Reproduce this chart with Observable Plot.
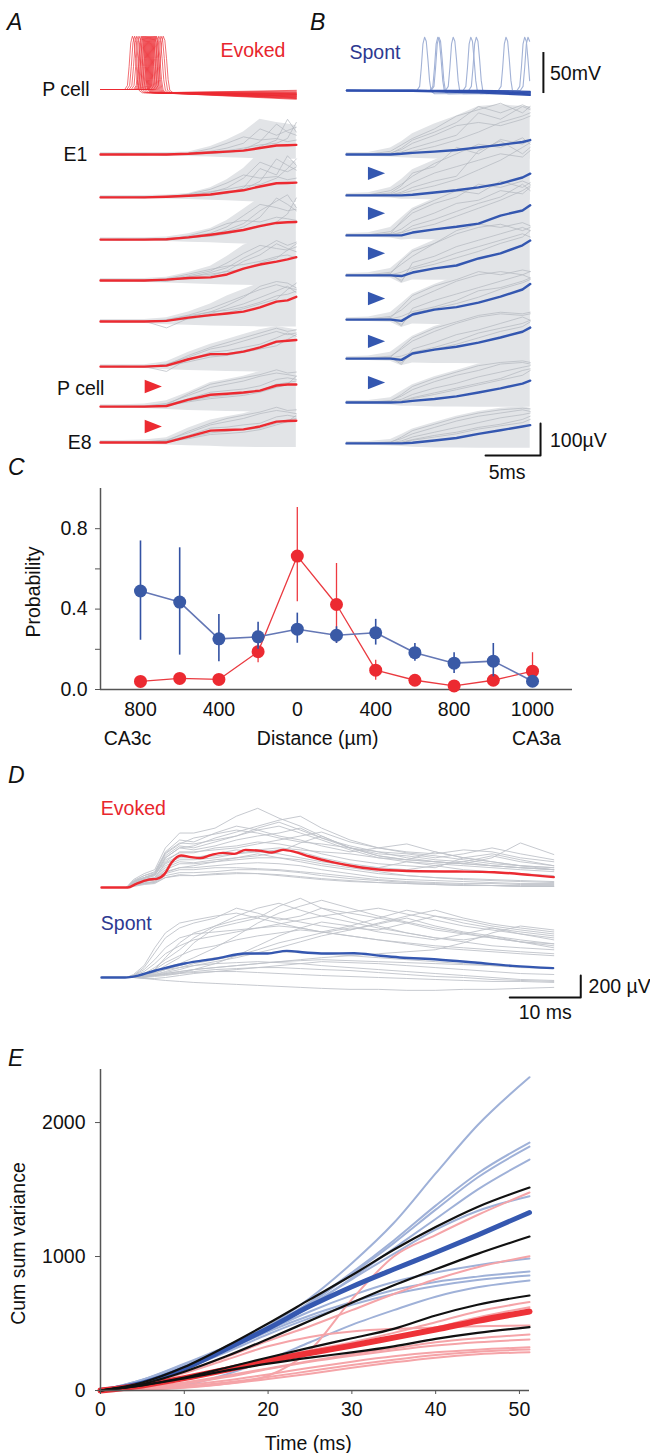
<!DOCTYPE html>
<html><head><meta charset="utf-8">
<script src="https://cdn.jsdelivr.net/npm/d3@7"></script>
<script src="https://cdn.jsdelivr.net/npm/@observablehq/plot@0.6"></script>
<style>
html,body{margin:0;padding:0;background:#fff;}
#fig{position:relative;width:650px;height:1453px;overflow:hidden;font-family:"Liberation Sans",Arial,Helvetica,sans-serif;}
.panel{position:absolute;}
.letter{position:absolute;font-style:italic;font-size:23px;line-height:23px;color:#111;}
</style></head><body><div id="fig"></div>
<script>
// ================= DATA =================
// ---- Panel A (evoked) : time grid (ms), row baselines (µV), traces (µV) ----
const tA = [0,2,4,6,8,10,11.5,13,14.5,16,17,17.8];
const rowBaseA = [972,838,706,578,450,309,184,72];
const meanA = [
 [0,0,0,0,2,6,9,12,20,28,29,30],
 [0,0,0,2,5,9,16,22,34,44,45,46],
 [0,0,0,1,7,15,22,30,42,52,54,55],
 [0,0,0,3,8,10,19,37,50,59,66,73],
 [0,0,0,2,12,20,25,31,44,62,66,77],
 [0,0,0,3,23,39,39,47,60,78,81,83],
 [0,0,0,2,22,37,40,44,50,66,69,69],
 [0,0,0,0,18,37,39,41,50,65,67,68]];
const upperA = [
 [6,6,6,6,8,25,45,70,110,100,95,90],
 [6,6,6,7,12,30,55,90,140,130,120,110],
 [6,6,6,8,18,35,60,95,130,140,120,110],
 [6,6,6,10,25,45,75,110,130,125,120,115],
 [6,6,6,12,30,55,80,100,120,130,125,115],
 [6,6,6,15,45,70,85,100,115,125,120,115],
 [6,6,8,18,45,75,85,95,110,120,115,110],
 [6,6,8,15,45,70,80,90,105,115,110,105]];
const lowerA = [
 [-5,-5,-5,-5,-6,-8,-10,-12,-14,-15,-15,-15],
 [-5,-5,-5,-5,-7,-9,-11,-13,-15,-16,-16,-16],
 [-5,-5,-5,-6,-8,-10,-12,-14,-16,-16,-16,-16],
 [-5,-5,-6,-8,-10,-12,-14,-15,-16,-16,-16,-16],
 [-5,-5,-6,-10,-12,-14,-15,-16,-17,-17,-17,-17],
 [-5,-5,-6,-10,-12,-14,-15,-16,-17,-17,-17,-17],
 [-5,-5,-6,-9,-12,-14,-15,-16,-17,-17,-17,-17],
 [-5,-5,-6,-8,-10,-12,-14,-15,-16,-16,-16,-16]];
const grayA = [
 [[1,-1,2,0,3,10,20,35,80,60,75,85],[-1,1,-1,2,0,4,8,15,40,95,70,60],[0,2,1,-2,4,18,35,55,45,50,40,45],[0,0,1,-1,1,3,6,12,25,45,110,70],[0,1,0,1,2,6,12,20,30,35,50,100]],
 [[1,-1,2,1,6,15,30,60,110,90,80,95],[0,1,-1,3,4,8,14,25,50,120,100,85],[-1,0,1,0,10,25,45,70,60,65,55,60],[0,0,1,0,3,7,12,30,90,70,130,100],[1,0,-1,2,8,18,25,35,40,60,90,120]],
 [[0,1,-1,2,10,20,40,75,110,100,90,95],[1,-1,0,3,5,12,25,40,70,130,110,90],[0,0,2,-2,12,30,50,60,55,70,65,60],[0,1,0,1,6,14,30,50,90,120,140,100],[0,-1,1,2,8,10,18,30,45,55,80,130]],
 [[0,1,-1,4,15,30,55,85,110,100,95,105],[1,-1,1,2,6,15,30,60,80,115,100,90],[0,0,-1,6,20,35,45,50,60,75,80,70],[0,0,1,2,10,25,40,70,95,125,110,120],[1,0,-1,-3,12,20,28,35,55,70,95,115]],
 [[0,1,0,6,20,40,60,80,100,115,105,100],[1,-1,1,-20,10,25,40,55,75,95,110,90],[0,0,-1,4,18,30,35,45,60,80,85,95],[0,0,1,3,14,30,50,75,110,125,120,105],[1,-1,0,2,8,18,28,40,55,70,100,120]],
 [[0,1,-1,8,30,55,65,80,95,110,100,105],[1,0,1,5,20,45,50,60,70,90,105,95],[0,-1,0,-15,25,35,40,50,60,75,80,85],[0,1,0,5,35,60,75,90,105,120,110,115],[1,0,-1,2,15,30,35,45,55,65,85,100]],
 [[0,1,2,10,35,60,70,80,95,105,100,95],[1,0,-1,6,25,45,50,55,65,85,90,85],[0,-1,1,4,18,30,35,40,50,70,75,80],[0,0,1,6,40,70,80,90,100,115,105,108],[0,1,-1,3,15,25,30,35,45,60,70,95]],
 [[0,1,2,8,30,55,65,75,90,100,95,90],[1,0,-1,5,22,45,48,55,60,80,85,80],[0,-1,1,3,15,30,35,40,45,60,70,75],[0,0,1,5,35,60,75,85,95,110,100,102],[1,0,-1,2,12,25,28,32,40,55,65,85]]];
const arrowRowsA = [6,7];
const arrowLiftA = [63,50];

// P cell spikes (mV): one spike waveform, peak times (ms), end values (mV)
const spikeWave = [[-0.7,0],[-0.45,5],[-0.3,28],[-0.15,57],[0,65],[0.15,60],[0.3,38],[0.45,12],[0.6,-1],[0.9,-4]];
const peaksA = [2.9,3.1,3.3,3.5,3.7,3.8,3.9,4.0,4.1,4.2,4.3,4.4,4.5,4.6,4.7,4.8,4.9,5.0,5.1,5.3,5.5,5.7];
const endsA  = [-2,-5,-8,-4,-10,-6,-9,-3,-11,-5,-8,-7,-12,-6,-9,-1,-10,-7,-8,-4,-11,-6];
const tEndA = 17.8;

// ---- Panel B (spontaneous) ----
const tB = [0,2,4,5,6,8,10,12,14,16,16.7];
const rowBaseB = [972,844,719,594,456,334,197,69];
const meanB = [
 [0,0,0,2,5,9,14,22,30,39,45],
 [0,0,0,0,2,9,16,25,37,56,68],
 [0,0,0,0,9,19,27,37,62,78,94],
 [0,0,0,-2,9,22,31,53,69,94,109],
 [0,0,0,-4,16,31,39,53,72,94,111],
 [0,0,0,-4,16,28,37,50,66,84,97],
 [0,0,0,1,5,11,19,31,44,59,68],
 [0,0,0,0,2,9,17,30,41,53,57]];
const upperB = [
 [6,6,20,40,65,95,120,150,155,150,150],
 [6,8,25,50,80,110,140,170,180,175,170],
 [6,8,25,55,85,115,145,170,175,170,165],
 [6,8,22,50,80,110,140,160,170,165,160],
 [6,8,22,50,80,110,135,150,160,160,155],
 [6,8,20,45,70,100,120,140,150,150,145],
 [6,6,15,35,55,80,100,120,130,135,130],
 [6,6,12,28,45,65,85,100,110,115,110]];
const lowerB = [
 [-5,-6,-8,-10,-12,-14,-14,-15,-15,-15,-15],
 [-5,-6,-8,-12,-12,-14,-14,-15,-15,-15,-15],
 [-5,-6,-8,-14,-12,-14,-15,-15,-16,-16,-16],
 [-5,-6,-8,-25,-14,-15,-15,-16,-16,-16,-16],
 [-5,-6,-8,-25,-14,-15,-15,-16,-16,-16,-16],
 [-5,-6,-8,-22,-14,-15,-15,-16,-16,-16,-16],
 [-5,-6,-8,-12,-12,-14,-14,-15,-15,-15,-15],
 [-5,-6,-8,-10,-12,-14,-14,-15,-15,-15,-15]];
const grayB = [
 [[0,1,10,30,50,80,120,140,160,130,150],[1,-1,5,15,35,60,90,100,90,110,120],[0,0,2,8,20,40,60,130,110,150,140],[0,0,3,20,45,70,100,150,130,155,145],[0,1,1,5,10,25,45,70,100,120,130]],
 [[0,2,15,35,60,100,130,160,150,180,160],[1,0,4,20,40,70,90,110,130,120,140],[0,-1,2,10,25,45,60,140,170,130,150],[0,1,8,30,70,90,150,130,175,160,175],[0,0,2,6,15,30,50,80,110,150,165]],
 [[0,2,12,40,70,100,120,160,150,170,160],[1,0,5,20,45,70,100,110,140,130,150],[0,-1,3,10,30,50,75,100,120,160,140],[0,1,6,45,80,110,140,130,170,150,165],[0,0,2,8,20,35,60,85,110,140,155]],
 [[0,2,10,35,60,100,130,150,160,140,150],[1,0,5,-20,40,60,90,110,130,150,140],[0,-1,2,10,25,45,70,90,110,130,120],[0,1,5,45,75,100,140,160,150,165,155],[0,0,2,-15,20,35,55,75,100,120,140]],
 [[0,2,10,30,60,90,120,140,150,140,150],[1,0,5,-20,35,60,80,100,120,140,130],[0,-1,2,10,25,40,60,90,100,120,130],[0,1,5,40,75,105,125,150,140,155,150],[0,0,2,-15,20,35,50,70,95,115,125]],
 [[0,2,8,30,55,85,110,130,140,135,140],[1,0,4,-18,30,50,75,90,110,130,120],[0,-1,2,8,20,35,55,80,95,110,120],[0,1,4,35,65,95,115,135,145,140,145],[0,0,2,-12,15,30,45,65,85,100,115]],
 [[0,1,6,20,40,65,85,100,120,125,120],[1,0,3,10,25,45,60,80,95,110,115],[0,-1,1,5,15,30,45,60,75,100,105],[0,1,4,25,50,75,95,115,125,130,125],[0,0,1,5,12,25,40,55,70,85,100]],
 [[0,1,5,15,30,50,70,85,95,105,100],[1,0,2,8,20,35,50,65,80,90,95],[0,-1,1,4,12,25,35,50,60,75,85],[0,1,3,20,40,60,80,95,105,110,108],[0,0,1,3,10,20,30,45,55,65,75]]];
const arrowRowsB = [1,2,3,4,5,6];
const arrowLiftB = [69,69,69,66,54,62];
const peaksB = [7.1,8.3,8.4,9.7,11.3,11.8,14.5,16.2,16.5];
const endsB  = [-3,-2,-4,-3,-2,-4,-3,-2,-3];
const tFlatB = [0,6,12,16.7];
const flatB = [[0,0,0,-1],[0,0,-1,-2],[0,0,-1,-3],[0,-0.5,-2,-4],[0,0,-2,-5],[0,-1,-3,-6]];
const tEndB = 16.7;

// ---- Panel C : connection probability vs distance ----
const distPos = [0,1,2,3,4,5,6,7,8,9,10];
const distTickPos = [0,2,4,6,8,10];
const distTickLabels = ["800","400","0","400","800","1000"];
const spontP  = [0.49,0.435,0.252,0.262,0.30,0.27,0.282,0.183,0.131,0.141,0.041];
const spontLo = [0.245,0.171,0.138,0.20,0.23,0.229,0.221,0.14,0.08,0.063,0.041];
const spontHi = [0.739,0.705,0.373,0.335,0.38,0.312,0.349,0.229,0.183,0.229,0.041];
const evokP   = [0.04,0.055,0.05,0.188,0.664,0.423,0.096,0.046,0.018,0.046,0.091];
const evokLo  = [0.04,0.055,0.05,0.133,0.437,0.23,0.046,0.046,0.018,0.046,0.046];
const evokHi  = [0.04,0.055,0.05,0.229,0.905,0.627,0.146,0.046,0.018,0.046,0.183];

// ---- Panel D : evoked vs spontaneous EPSPs (µV) ----
const tD = [0,3.5,4.5,6,7.5,9,11,13,16,19,22,25,28,31,35,39,43,47,51,55,59,63.7];
const grayEvokedD = [
 [0,0,54,90,126,315,405,396,432,468,522,558,495,432,342,270,234,216,198,180,162,144],
 [0,0,27,54,72,180,234,225,252,270,288,324,405,468,360,288,252,234,216,198,180,162],
 [0,0,72,126,162,360,495,495,540,648,720,630,558,468,360,288,252,324,270,234,198,162],
 [0,0,18,45,54,135,180,180,198,216,225,216,198,162,126,90,72,63,54,45,36,36],
 [0,0,45,81,108,252,315,315,360,378,414,396,360,306,252,216,198,180,270,306,252,198],
 [0,0,18,36,45,108,135,135,144,162,162,153,135,108,81,63,45,36,27,18,18,18],
 [0,0,63,108,144,324,432,414,495,558,522,468,432,378,324,360,396,324,270,234,198,180],
 [0,0,36,72,90,216,270,270,288,306,324,342,324,270,216,180,162,198,234,288,234,198],
 [0,0,9,27,36,90,117,108,126,135,126,117,99,81,63,45,36,27,18,18,9,9],
 [0,0,54,90,126,288,378,360,414,468,540,594,522,450,378,324,270,234,216,270,405,300],
 [0,0,36,72,90,225,288,270,306,342,324,306,270,234,198,180,234,198,162,144,126,108],
 [0,0,27,54,72,162,216,216,234,252,270,270,252,216,180,144,108,90,72,63,54,45],
 [0,0,18,36,45,90,108,108,117,126,126,108,90,72,54,45,36,27,18,18,9,9],
 [0,0,54,90,117,270,360,342,378,432,468,495,540,450,360,306,288,252,234,198,180,162],
 [0,0,45,81,108,270,360,378,450,504,558,612,648,540,432,360,315,288,252,216,198,180],
 [0,0,27,63,81,198,252,252,270,306,342,360,342,324,306,270,252,234,216,198,180,162],
 [0,0,36,54,72,144,180,198,234,270,306,270,234,198,162,126,108,90,81,72,63,54],
 [0,0,54,108,135,306,396,450,486,522,495,450,414,396,360,324,306,270,306,360,306,252],
 [0,0,18,36,54,126,162,162,180,180,171,162,144,126,99,72,54,45,36,36,27,27],
 [0,0,45,90,117,234,324,324,342,360,396,432,468,504,414,360,324,306,342,324,270,234]];
const graySpontD = [
 [0,0,18,90,225,360,450,495,540,630,585,522,558,630,540,468,405,360,342,378,324,270],
 [0,0,0,18,45,108,180,315,450,495,540,648,720,630,585,540,612,558,495,450,414,378],
 [0,0,9,27,72,135,198,252,288,342,378,405,432,414,468,540,495,432,396,360,324,306],
 [0,0,0,9,27,54,90,126,162,198,252,315,360,405,450,432,495,558,522,468,432,396],
 [0,0,9,18,36,72,108,144,180,198,216,234,225,216,198,180,162,144,126,108,90,81],
 [0,0,0,0,18,36,54,72,90,108,126,144,162,180,198,216,234,252,315,405,468,432],
 [0,0,27,108,270,405,495,522,558,585,540,495,450,414,378,342,315,288,270,252,234,216],
 [0,0,0,9,18,27,36,45,54,54,45,36,27,18,9,0,-9,-18,-27,-36,-36,-45],
 [0,0,9,36,90,162,252,360,468,558,630,675,612,558,504,450,405,360,324,288,270,252],
 [0,0,0,18,54,90,126,180,270,378,495,585,648,702,630,558,504,450,405,360,324,288],
 [0,0,9,27,45,72,90,108,126,135,144,135,126,108,90,72,54,36,18,0,-18,-27],
 [0,0,18,54,126,216,288,342,378,414,450,486,522,558,594,630,576,522,468,432,396,360],
 [0,0,0,9,18,36,54,72,90,108,126,144,153,162,153,144,135,126,117,108,99,90],
 [0,0,0,-9,-18,-27,-36,-45,-54,-63,-72,-81,-90,-99,-108,-108,-117,-117,-108,-108,-99,-90],
 [0,0,0,18,72,180,315,405,468,522,558,540,504,468,432,486,540,468,414,378,342,306],
 [0,0,9,18,27,45,72,108,144,180,225,270,324,378,432,495,558,612,540,486,450,414],
 [0,0,0,9,18,27,45,54,72,81,90,90,81,72,63,45,27,9,0,-18,-27,-36],
 [0,0,18,72,162,270,360,396,414,432,450,468,450,414,378,342,306,270,252,234,216,198],
 [0,0,0,0,9,18,36,72,126,198,288,378,450,504,468,414,378,342,396,450,396,342],
 [0,0,0,-9,-9,0,18,36,54,72,90,108,126,144,135,126,108,90,72,54,36,27]];
const tRedD = [0,3.7,4.9,6.5,7.8,8.9,9.9,11.2,12.6,13.9,15.5,17.1,18.7,20.3,22.4,24,25.6,27.2,29.3,32.5,35.7,39.4,44.7,50,55.3,60.6,63.7];
const redD  = [0,0,33,70,79,124,230,291,276,267,297,315,306,342,333,318,342,324,282,230,191,161,148,145,139,112,94];
const tBlueD = [0,3.3,4.3,7.5,11.7,16.5,20.2,23.4,26.1,28.7,31.4,35.6,39.3,42,47.3,52.6,57.9,63.6];
const blueD  = [0,0,6,61,127,176,218,218,242,227,218,221,197,182,164,136,106,85];
const spontOffsetD = -818;

// ---- Panel E : cumulative sum of variance ----
const tE = [0,5,10,15,20,25,30,35,40,45,51.2];
const spontCells = [
 [0,80,200,330,480,690,950,1250,1620,1980,2338],
 [0,80,195,320,470,660,880,1120,1380,1620,1850],
 [0,75,190,315,460,650,870,1100,1350,1590,1820],
 [0,75,185,310,450,630,840,1060,1280,1500,1724],
 [0,75,190,320,470,640,830,1020,1200,1340,1450],
 [0,70,180,305,450,590,710,810,880,935,985],
 [0,70,175,300,440,560,660,750,810,850,888],
 [0,65,165,285,420,540,640,720,780,825,858],
 [0,10,40,120,230,360,490,600,700,770,821]];
const evokedCells = [
 [0,5,20,50,110,300,680,1000,1160,1310,1478],
 [0,50,140,250,370,480,600,720,830,920,1002],
 [0,40,100,165,235,300,360,430,510,590,660],
 [0,35,90,150,215,280,340,400,470,545,622],
 [0,50,130,230,330,400,440,460,470,480,485],
 [0,25,60,110,165,220,270,315,360,390,418],
 [0,20,50,100,160,215,260,300,335,360,381],
 [0,15,40,75,120,170,215,255,285,305,323],
 [0,10,30,60,100,145,190,230,265,290,306],
 [0,8,25,50,85,125,170,210,245,270,286]];
const spontMeanE = [0,55,164,310,463,630,775,905,1030,1160,1328];
const evokedMeanE = [0,38,92,155,222,280,335,395,455,520,590];
const boundsE = [
 [0,60,175,330,500,680,860,1050,1220,1370,1515],
 [0,48,140,255,385,520,655,785,905,1020,1149],
 [0,40,97,170,246,320,390,460,560,640,709],
 [0,38,90,148,200,245,285,330,385,430,473]];

// ================= DRAWING =================
const FONT = '"Liberation Sans", Arial, Helvetica, sans-serif';
const STYLE = {fontFamily: FONT, fontSize: "19.5px", overflow: "visible", background: "transparent", color: "#111"};
const RED = "#ec2a31", RED_TXT = "#e8262d", BLUE = "#3457b0", NAVY = "#2d3991";
const G_AREA = "#e2e4e7", G_LINE = "#b3b8bf", FS = 19.5;
const fig = document.getElementById("fig");
function mount(svg, left, top) {
  const d = document.createElement("div");
  d.className = "panel"; d.style.left = left + "px"; d.style.top = top + "px";
  d.appendChild(svg); fig.appendChild(d);
}
function letter(ch, left, top) {
  const d = document.createElement("div");
  d.className = "letter"; d.style.left = left + "px"; d.style.top = top + "px";
  d.textContent = ch; fig.appendChild(d);
}
const flatRows = (t, rows, base, tag) => rows.flatMap((vals, r) => vals.map((v, i) => ({x: t[i], y: base[r] + v, id: tag + r})));
const flatGray = (t, rows, base, tag) => rows.flatMap((set, r) => set.flatMap((vals, k) => vals.map((v, i) => ({x: t[i], y: base[r] + v, id: tag + r + "-" + k}))));
const flatArea = (t, lo, hi, base) => lo.flatMap((vals, r) => vals.map((v, i) => ({x: t[i], y1: base[r] + v, y2: base[r] + hi[r][i], id: r})));
const flatSeries = (t, sets, tag, off = 0) => sets.flatMap((vals, k) => vals.map((v, i) => ({x: t[i], y: v + off, id: tag + k})));
function spikeTraces(peaks, ends, tEnd, tag) {
  return peaks.flatMap((p, k) => {
    const pts = [[0, 0]].concat(spikeWave.map(([dt, v]) => [p + dt, v])).filter(q => q[0] <= tEnd);
    if (p + spikeWave[spikeWave.length - 1][0] < tEnd) pts.push([tEnd, ends[k]]);
    return pts.map(([x, y]) => ({x, y, id: tag + k}));
  });
}
const arrowSymbol = {draw(ctx, size) {
  const r = Math.sqrt(size / Math.PI);
  ctx.moveTo(r, 0); ctx.lineTo(-r, -0.78 * r); ctx.lineTo(-r, 0.78 * r); ctx.closePath();
}};
const txt = (s, o) => Plot.text([s], {text: d => d, fontSize: FS, fill: "#111", ...o});

// ---- A top : P cell evoked spikes ----
mount(Plot.plot({
  width: 320, height: 110, margin: 0, style: STYLE,
  x: {domain: [-100/11, 220/11], axis: null},
  y: {domain: [-21/0.82, 89/0.82], axis: null},
  marks: [
    Plot.line(spikeTraces(peaksA, endsA, tEndA, "a"), {x: "x", y: "y", z: "id", stroke: RED, strokeWidth: 0.8, strokeOpacity: 0.85}),
    txt("P cell", {x: -1, y: 0, textAnchor: "end"}),
    txt("Evoked", {x: 10.9, y: 47.6, textAnchor: "start", fill: RED_TXT})
  ]
}), 0, 0);

// ---- B top : P cell spontaneous spikes ----
mount(Plot.plot({
  width: 330, height: 100, margin: 0, style: STYLE,
  x: {domain: [-26/11, 304/11], axis: null},
  y: {domain: [-10/0.82, 90/0.82], axis: null},
  marks: [
    Plot.line(spikeTraces(peaksB, endsB, tEndB, "b"), {x: "x", y: "y", z: "id", stroke: "#a2b2d6", strokeWidth: 1.1}),
    Plot.line(flatSeries(tFlatB, flatB, "f"), {x: "x", y: "y", z: "id", stroke: "#2f4fae", strokeWidth: 1.3}),
    txt("Spont", {x: 0.27, y: 46.3, textAnchor: "start", fill: NAVY}),
    Plot.ruleX([17.9], {y1: -3.7, y2: 46.3, stroke: "#111", strokeWidth: 2}),
    txt("50mV", {x: 18.5, y: 20.7, textAnchor: "start"})
  ]
}), 320, 0);

// ---- A rows ----
mount(Plot.plot({
  width: 320, height: 360, margin: 0, style: STYLE,
  x: {domain: [-100/11, 220/11], axis: null},
  y: {domain: [-5*3.125, 355*3.125], axis: null},
  marks: [
    Plot.areaY(flatArea(tA, lowerA, upperA, rowBaseA), {x: "x", y1: "y1", y2: "y2", z: "id", fill: G_AREA}),
    Plot.line(flatGray(tA, grayA, rowBaseA, "g"), {x: "x", y: "y", z: "id", stroke: G_LINE, strokeWidth: 0.7}),
    Plot.line(flatRows(tA, meanA, rowBaseA, "m"), {x: "x", y: "y", z: "id", stroke: RED, strokeWidth: 2.4}),
    Plot.dot(arrowRowsA.map((r, i) => rowBaseA[r] + arrowLiftA[i]), {x: 4.8, y: d => d, symbol: arrowSymbol, r: 8.6, fill: RED, stroke: "none"}),
    txt("E1", {x: -1.2, y: rowBaseA[0], textAnchor: "end"}),
    txt("P cell", {x: 0.36, y: rowBaseA[6] + 57, textAnchor: "end"}),
    txt("E8", {x: -0.8, y: rowBaseA[7], textAnchor: "end"})
  ]
}), 0, 110);

// ---- B rows ----
mount(Plot.plot({
  width: 330, height: 390, margin: 0, style: STYLE,
  x: {domain: [-26/11, 304/11], axis: null},
  y: {domain: [-25*3.125, 365*3.125], axis: null},
  marks: [
    Plot.areaY(flatArea(tB, lowerB, upperB, rowBaseB), {x: "x", y1: "y1", y2: "y2", z: "id", fill: G_AREA}),
    Plot.line(flatGray(tB, grayB, rowBaseB, "g"), {x: "x", y: "y", z: "id", stroke: G_LINE, strokeWidth: 0.7}),
    Plot.line(flatRows(tB, meanB, rowBaseB, "m"), {x: "x", y: "y", z: "id", stroke: BLUE, strokeWidth: 2.4}),
    Plot.dot(arrowRowsB.map((r, i) => rowBaseB[r] + arrowLiftB[i]), {x: 2.73, y: d => d, symbol: arrowSymbol, r: 8.6, fill: BLUE, stroke: "none"}),
    Plot.line([[12.64, 31.25], [17.64, 31.25], [17.64, 131.25]], {stroke: "#111", strokeWidth: 2}),
    txt("100µV", {x: 18.5, y: 78, textAnchor: "start"}),
    txt("5ms", {x: 14.6, y: -22, textAnchor: "middle"})
  ]
}), 320, 100);

// ---- C ----
const cS = distPos.map((x, i) => ({x, y: spontP[i], lo: spontLo[i], hi: spontHi[i]}));
const cE = distPos.map((x, i) => ({x, y: evokP[i], lo: evokLo[i], hi: evokHi[i]}));
mount(Plot.plot({
  width: 650, height: 280, marginLeft: 100, marginRight: 78, marginTop: 18, marginBottom: 61, style: STYLE,
  x: {domain: [-1.02, 11.02], label: null},
  y: {domain: [0, 1], label: null},
  marks: [
    Plot.ruleX([-1.02], {y1: 0, y2: 1, stroke: "#555", strokeWidth: 1.5}),
    Plot.ruleY([0], {x1: -1.02, x2: 11.02, stroke: "#555", strokeWidth: 1.5}),
    Plot.axisY({ticks: [0, 0.2, 0.4, 0.6, 0.8], tickSize: 5, tickPadding: 8, stroke: "#555", fill: "#111", label: null,
      tickFormat: d => [0, 0.4, 0.8].includes(d) ? d.toFixed(1) : ""}),
    Plot.axisX({ticks: distTickPos, tickSize: 0, tickPadding: 13, fill: "#111", label: null,
      tickFormat: d => distTickLabels[distTickPos.indexOf(d)]}),
    Plot.ruleX(cE, {x: "x", y1: "lo", y2: "hi", stroke: "#ee3a40", strokeWidth: 1.3}),
    Plot.line(cE, {x: "x", y: "y", stroke: "#ea3a40", strokeWidth: 1.3}),
    Plot.dot(cE, {x: "x", y: "y", r: 6.5, fill: RED, stroke: "none"}),
    Plot.ruleX(cS, {x: "x", y1: "lo", y2: "hi", stroke: "#3352a3", strokeWidth: 1.6}),
    Plot.line(cS, {x: "x", y: "y", stroke: "#6477b5", strokeWidth: 1.6}),
    Plot.dot(cS, {x: "x", y: "y", r: 6.5, fill: "#3a5aa6", stroke: "none"}),
    txt("Probability", {x: -2.73, y: 0.485, rotate: -90, textAnchor: "middle"}),
    txt("CA3c", {x: -0.94, y: -0.245, textAnchor: "start"}),
    txt("Distance (µm)", {x: 4.52, y: -0.245, textAnchor: "middle"}),
    txt("CA3a", {x: 10.1, y: -0.245, textAnchor: "middle"})
  ]
}), 0, 470);

// ---- D ----
mount(Plot.plot({
  width: 650, height: 290, margin: 0, style: STYLE,
  x: {domain: [-101/7.1, 549/7.1], axis: null},
  y: {domain: [-173*9.09, 117*9.09], axis: null},
  marks: [
    Plot.line(flatSeries(tD, grayEvokedD, "e"), {x: "x", y: "y", z: "id", stroke: "#bfc3c9", strokeWidth: 0.9}),
    Plot.line(flatSeries(tD, graySpontD, "s", spontOffsetD), {x: "x", y: "y", z: "id", stroke: "#bfc3c9", strokeWidth: 0.9}),
    Plot.line(tRedD.map((t, i) => [t, redD[i]]), {stroke: RED, strokeWidth: 2.4, curve: "monotone-x"}),
    Plot.line(tBlueD.map((t, i) => [t, blueD[i] + spontOffsetD]), {stroke: BLUE, strokeWidth: 2.4, curve: "monotone-x"}),
    txt("Evoked", {x: -0.1, y: 718, textAnchor: "start", fill: RED_TXT}),
    txt("Spont", {x: -0.1, y: -327, textAnchor: "start", fill: NAVY}),
    Plot.line([[57.5, -1000], [67.5, -1000], [67.5, -800]], {stroke: "#111", strokeWidth: 2}),
    txt("200 µV", {x: 68.6, y: -905, textAnchor: "start"}),
    txt("10 ms", {x: 62.5, y: -1136, textAnchor: "middle"})
  ]
}), 0, 770);

// ---- E ----
mount(Plot.plot({
  width: 650, height: 413, marginLeft: 100, marginRight: 121, marginTop: 29, marginBottom: 63, style: STYLE,
  x: {domain: [0, 51.2], label: null},
  y: {domain: [0, 2396], label: null},
  marks: [
    Plot.line(flatSeries(tE, spontCells, "sc"), {x: "x", y: "y", z: "id", stroke: "#9fb1d8", strokeWidth: 2, curve: "monotone-x"}),
    Plot.line(flatSeries(tE, evokedCells, "ec"), {x: "x", y: "y", z: "id", stroke: "#f5a4a8", strokeWidth: 2, curve: "monotone-x"}),
    Plot.line(tE.map((t, i) => [t, spontMeanE[i]]), {stroke: "#3558b0", strokeWidth: 5, curve: "monotone-x"}),
    Plot.line(tE.map((t, i) => [t, evokedMeanE[i]]), {stroke: "#ee3238", strokeWidth: 6, curve: "monotone-x"}),
    Plot.line(flatSeries(tE, boundsE, "k"), {x: "x", y: "y", z: "id", stroke: "#111", strokeWidth: 2.2, curve: "monotone-x"}),
    Plot.ruleX([0], {y1: 0, y2: 2396, stroke: "#555", strokeWidth: 1.5}),
    Plot.ruleY([0], {x1: 0, x2: 51.2, stroke: "#555", strokeWidth: 1.5}),
    Plot.axisY({ticks: [0, 1000, 2000], tickSize: 5, tickPadding: 10, stroke: "#555", fill: "#111", label: null, tickFormat: d => String(d)}),
    Plot.axisX({ticks: [0, 10, 20, 30, 40, 50], tickSize: 4, tickPadding: 8, stroke: "#555", fill: "#111", label: null, tickFormat: d => String(d)}),
    txt("Cum sum variance", {x: -9.8, y: 1097, rotate: -90, textAnchor: "middle"}),
    txt("Time (ms)", {x: 24.8, y: -396, textAnchor: "middle"})
  ]
}), 0, 1040);

letter("A", 7, 11);
letter("B", 310, 11);
letter("C", 8, 456);
letter("D", 8, 764);
letter("E", 8, 1047);
</script></body></html>
